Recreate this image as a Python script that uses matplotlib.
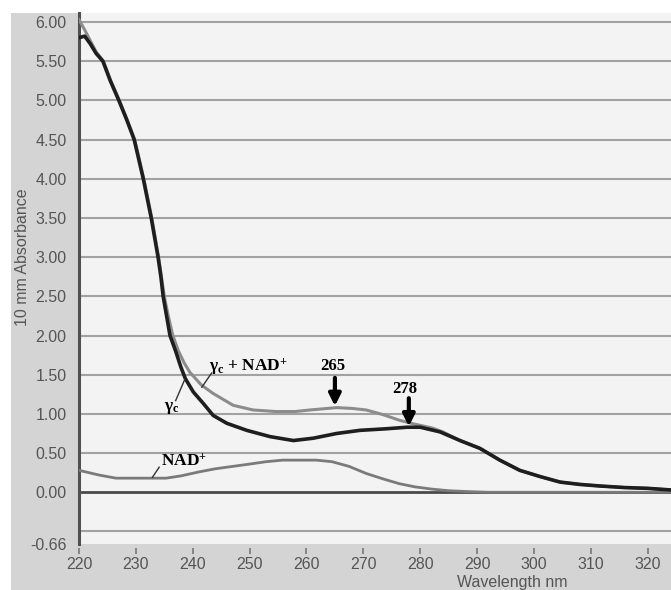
import numpy as np
import matplotlib
matplotlib.use('Agg')
from matplotlib import pyplot as plt
from matplotlib.patches import Rectangle

#--------------------------------------------------------60
# UV absorbance spectra: gamma_c, gamma_c + NAD+, NAD+

# gamma_c (black)
wl_gc = [220, 221, 222, 223.0, 224.2, 225.5, 227.0, 228.4, 229.7, 230.5,
         231.3, 232.0, 232.7, 233.3, 233.9, 234.4, 234.8, 235.4, 236.0,
         237.0, 237.9, 238.7, 240.1, 241.9, 243.6, 246.0, 249.5, 253.6,
         257.7, 261.2, 265.3, 269.4, 274.0, 277.7, 280.0, 283.5, 287.0,
         290.5, 294.0, 297.5, 301.1, 304.6, 308.1, 311.6, 316.0, 320.0,
         324.0]
abs_gc = [5.80, 5.82, 5.72, 5.60, 5.50, 5.25, 5.00, 4.75, 4.50, 4.25,
          4.00, 3.75, 3.50, 3.25, 3.00, 2.75, 2.50, 2.25, 2.00,
          1.80, 1.60, 1.45, 1.28, 1.13, 0.98, 0.88, 0.79, 0.71,
          0.66, 0.69, 0.75, 0.79, 0.81, 0.83, 0.83, 0.77, 0.66,
          0.56, 0.41, 0.28, 0.20, 0.13, 0.10, 0.08, 0.06, 0.05,
          0.03]

# gamma_c + NAD+ (grey)
wl_mix = [220, 221, 222, 223.0, 224.3, 225.6, 227.1, 228.5, 229.8, 230.6,
          231.4, 232.1, 232.8, 233.4, 234.0, 234.5, 235.0, 235.7, 236.5,
          237.5, 238.5, 239.5, 241.5, 243.6, 247.1, 250.6, 254.7, 258.0,
          260.6, 265.3, 268.0, 270.5, 273.5, 276.3, 279.0, 282.1, 284.0,
          287.0, 290.5, 294.0, 297.5, 301.1, 304.6, 308.1, 311.6, 316.0,
          320.0, 324.0]
abs_mix = [6.03, 5.90, 5.76, 5.62, 5.50, 5.25, 5.00, 4.75, 4.50, 4.25,
           4.00, 3.75, 3.50, 3.25, 3.00, 2.75, 2.50, 2.25, 2.00,
           1.80, 1.65, 1.53, 1.37, 1.26, 1.11, 1.05, 1.03, 1.03,
           1.05, 1.08, 1.07, 1.05, 0.99, 0.92, 0.87, 0.82, 0.77,
           0.66, 0.56, 0.41, 0.28, 0.20, 0.13, 0.10, 0.08, 0.06,
           0.05, 0.03]

# NAD+ alone
wl_nad = [220, 223.5, 226.5, 230, 235.3, 238, 241.1, 244, 247, 250, 252.9,
          255.8, 258.7, 261.7, 264.5, 267.5, 270.5, 273.5, 276.3, 279,
          282.1, 285, 288, 292, 300, 310, 324]
abs_nad = [0.28, 0.22, 0.18, 0.18, 0.18, 0.21, 0.26, 0.30, 0.33, 0.36, 0.39,
           0.41, 0.41, 0.41, 0.39, 0.33, 0.24, 0.17, 0.11, 0.07,
           0.04, 0.02, 0.01, 0.0, 0.0, 0.0, 0.0]

ytick_vals = [-0.66, 0.0, 0.5, 1.0, 1.5, 2.0, 2.5, 3.0, 3.5, 4.0, 4.5,
              5.0, 5.5, 6.0]
grid_vals = [-0.5, 0.5, 1.0, 1.5, 2.0, 2.5, 3.0, 3.5, 4.0, 4.5, 5.0,
             5.5, 6.0]
xtick_vals = [220, 230, 240, 250, 260, 270, 280, 290, 300, 310, 320]

peaks = [265, 278]            # arrow positions (nm)

#--------------------------------------------------------60

plt.rcParams['font.family'] = ['Liberation Sans', 'DejaVu Sans']
plt.rcParams['mathtext.fontset'] = 'custom'
plt.rcParams['mathtext.rm'] = 'Liberation Serif:bold'
plt.rcParams['mathtext.it'] = 'Liberation Serif:bold'
plt.rcParams['mathtext.bf'] = 'Liberation Serif:bold'

W, H = 671, 590
fig = plt.figure(figsize=(W/100., H/100.), dpi=100)
fig.patch.set_facecolor('white')

# grey panel behind the plot
fig.patches.append(Rectangle((11./W, 0), 1 - 11./W, 1 - 13./H,
                             transform=fig.transFigure, facecolor='#d4d4d4',
                             edgecolor='none', zorder=-10))

ax_left, ax_right, ax_top, ax_bot = 79, 671, 13, 544
ax = fig.add_axes([ax_left/W, 1 - ax_bot/H, (ax_right-ax_left)/W,
                   (ax_bot-ax_top)/H])
ax.set_zorder(1)
ax.set_facecolor('#f3f3f3')

ax.set_xlim(220, 324.1)
ax.set_ylim(-0.66, 6.115)

for g in grid_vals:
    ax.axhline(g, color='#a2a2a2', lw=1.5, zorder=1)
ax.axhline(0.0, color='#4a4a4a', lw=2.0, zorder=2)

ax.plot(wl_nad, abs_nad, color='#7a7a7a', lw=2.0, zorder=3)
ax.plot(wl_mix, abs_mix, color='#8c8c8c', lw=2.2, zorder=4,
        solid_joinstyle='round')
ax.plot(wl_gc, abs_gc, color='#1e1e1e', lw=2.6, zorder=5,
        solid_joinstyle='round')

# Axes styling
for s in ['top', 'right']:
    ax.spines[s].set_visible(False)
ax.spines['left'].set_color('#505050')
ax.spines['left'].set_linewidth(2.2)
ax.spines['bottom'].set_position(('outward', 3))
ax.spines['bottom'].set_visible(False)

ax.set_yticks(ytick_vals)
ax.set_yticklabels(['%.2f' % v for v in ytick_vals])
ax.set_xticks(xtick_vals)
ax.set_xticklabels(['%d' % v for v in xtick_vals])
ax.tick_params(axis='y', length=0, pad=9, labelsize=11.5, labelcolor='#555555')
ax.tick_params(axis='x', length=4.5, width=1.2, color='#777777', pad=2,
               labelsize=11.5, labelcolor='#555555')

fig.text(23./W, 1 - 257./H, '10 mm Absorbance', rotation=90, ha='center',
         va='center', fontsize=11.5, color='#555555')
fig.text(512./W, 1 - 583./H, 'Wavelength nm', ha='center', va='center',
         fontsize=11.5, color='#555555')

# Annotations
lab = dict(fontfamily='Liberation Serif', fontweight='bold', color='black',
           fontsize=12.5, zorder=6)
ax.text(242.8, 1.55, r'γ$_\mathrm{c}$ + NAD$^\mathrm{+}$', ha='left',
        va='baseline', **lab)
ax.plot([243.3, 241.6], [1.52, 1.34], color='#333333', lw=1.0, zorder=6)

ax.text(235.0, 1.05, r'γ$_\mathrm{c}$', ha='left', va='baseline', **lab)
ax.plot([237.0, 238.6], [1.17, 1.44], color='#333333', lw=1.0, zorder=6)

ax.text(234.5, 0.34, r'NAD$^\mathrm{+}$', ha='left', va='baseline', **lab)
ax.plot([234.1, 232.9], [0.32, 0.19], color='#333333', lw=1.0, zorder=6)

arrow = dict(arrowstyle='-|>,head_width=0.35,head_length=0.7', lw=3.0,
             color='black', shrinkA=0, shrinkB=0)
num = dict(fontfamily='Liberation Serif', fontweight='bold', color='black',
           fontsize=12, ha='center', va='center', zorder=6)

ax.annotate('', xy=(peaks[0], 1.10), xytext=(peaks[0], 1.46),
            arrowprops=arrow, zorder=6)
ax.text(264.6, 1.61, '%d' % peaks[0], **num)

ax.annotate('', xy=(peaks[1], 0.84), xytext=(peaks[1], 1.20),
            arrowprops=arrow, zorder=6)
ax.text(277.3, 1.32, '%d' % peaks[1], **num)

plt.savefig('out.png', dpi=100)
